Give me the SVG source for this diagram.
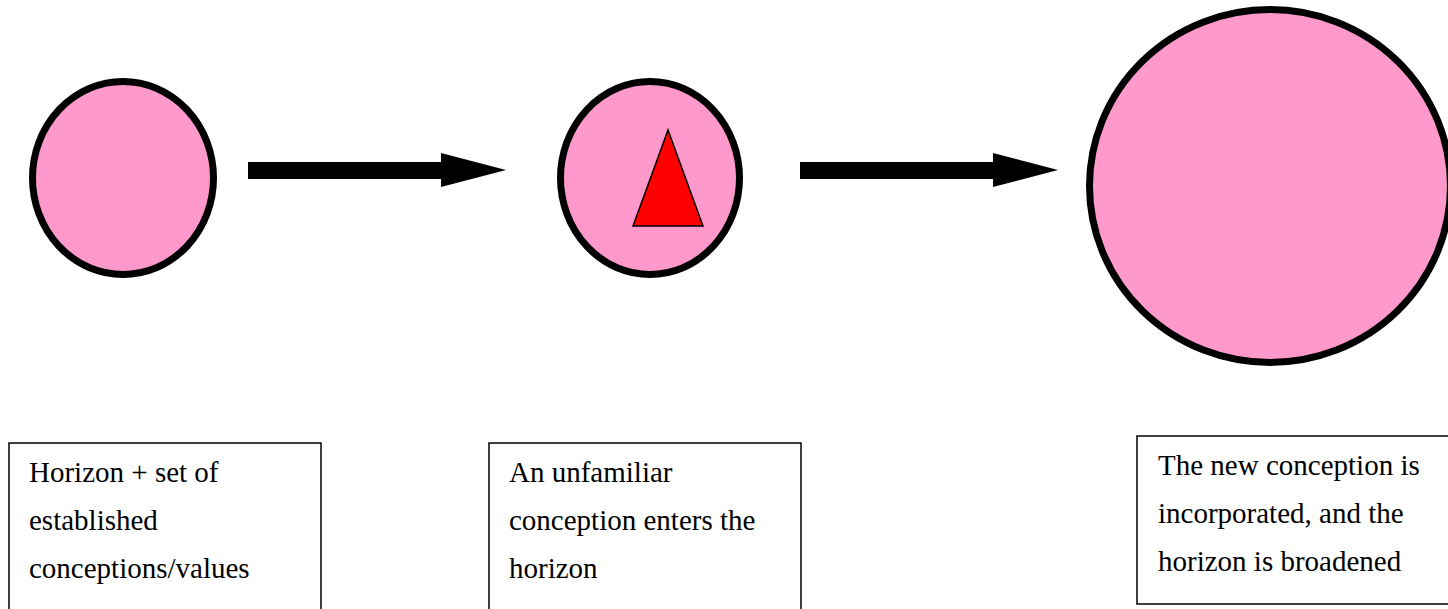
<svg xmlns="http://www.w3.org/2000/svg" width="1448" height="609" viewBox="0 0 1448 609">
  <style>
    .horizon { fill: #FF99CC; stroke: #000000; stroke-width: 7; }
    .concept { fill: #FF0000; stroke: #000000; stroke-width: 1.5; stroke-linejoin: miter; }
    .box { fill: #FFFFFF; stroke: #000000; stroke-width: 1.5; }
    .label { font-family: "Liberation Serif", "Times New Roman", serif; font-size: 29px; fill: #000000; }
    .arrow { fill: #000000; stroke: none; }
  </style>
  <rect width="1448" height="609" fill="#FFFFFF"/>
  <g id="node-horizon-1">
    <ellipse class="horizon" cx="123" cy="178" rx="90.5" ry="96.5"/>
  </g>
  <g id="node-horizon-2">
    <ellipse class="horizon" cx="650" cy="178" rx="89.5" ry="96.5"/>
    <polygon class="concept" points="668,130 633,226 703,226"/>
  </g>
  <g id="node-horizon-3">
    <ellipse class="horizon" cx="1270" cy="186" rx="180.5" ry="176.5"/>
  </g>
  <g id="connectors">
    <polygon class="arrow" points="248,162 441,162 441,153 506,170 441,187 441,179 248,179"/>
    <polygon class="arrow" points="800,162 993,162 993,153 1058,170 993,187 993,179 800,179"/>
  </g>
  <g id="label-1">
    <rect class="box" x="9" y="443" width="312" height="180"/>
    <text class="label" x="29" y="482">Horizon + set of</text>
    <text class="label" x="29" y="530">established</text>
    <text class="label" x="29" y="578">conceptions/values</text>
  </g>
  <g id="label-2">
    <rect class="box" x="489" y="443" width="312" height="180"/>
    <text class="label" x="509" y="482">An unfamiliar</text>
    <text class="label" x="509" y="530">conception enters the</text>
    <text class="label" x="509" y="578">horizon</text>
  </g>
  <g id="label-3">
    <rect class="box" x="1137" y="436" width="320" height="168"/>
    <text class="label" x="1158" y="475">The new conception is</text>
    <text class="label" x="1158" y="523">incorporated, and the</text>
    <text class="label" x="1158" y="571">horizon is broadened</text>
  </g>
</svg>
